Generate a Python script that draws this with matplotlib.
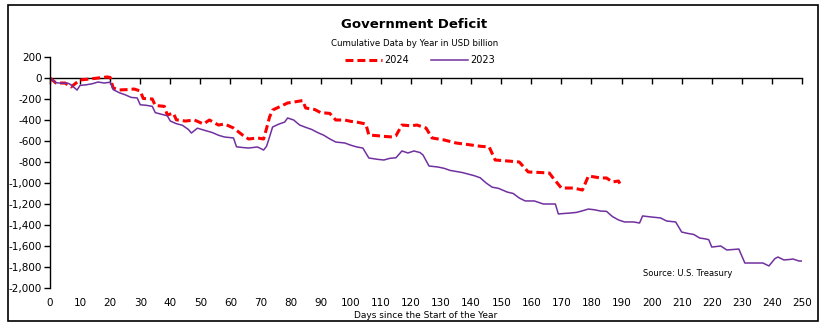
import matplotlib
matplotlib.use('Agg')
import matplotlib.pyplot as plt
from matplotlib.patches import Rectangle
from matplotlib.ticker import FuncFormatter, MultipleLocator

plt.rcParams['font.family'] = ['Liberation Sans Narrow', 'DejaVu Sans']

# 2023 cumulative deficit (USD bn) by day since start of year
days_2023 = [0, 2, 4, 6, 7, 9, 10, 12, 14, 16, 18, 20, 21, 23, 25, 27, 29, 30, 32, 34,
             35, 37, 39, 40, 42, 44, 46, 47, 49, 51, 54, 56, 58, 61, 62, 64, 66, 69, 71, 72,
             73, 74, 76, 78, 79, 81, 83, 85, 87, 89, 91, 93, 95, 98, 100, 102, 104, 106, 109, 111,
             113, 115, 117, 119, 121, 123, 124, 126, 129, 131, 133, 135, 137, 139, 141, 143, 145, 147, 149, 152,
             154, 156, 158, 161, 164, 168, 169, 171, 173, 175, 177, 179, 181, 183, 185, 187, 189, 191, 194, 196,
             197, 200, 203, 205, 208, 210, 212, 214, 216, 218, 219, 220, 223, 225, 229, 231, 234, 237, 239, 241,
             242, 244, 246, 247, 249, 250]
deficit_2023 = [0, -45, -50, -50, -65, -115, -70, -65, -55, -38, -48, -40, -110, -140, -160, -185, -190, -255, -260, -270,
                -330, -345, -360, -410, -435, -450, -490, -524, -478, -495, -520, -545, -562, -571, -655, -662, -667, -657, -686, -650,
                -560, -467, -440, -420, -381, -400, -448, -470, -490, -520, -545, -580, -610, -619, -640, -657, -667, -762, -775, -781,
                -765, -760, -695, -714, -695, -710, -733, -838, -848, -860, -880, -890, -900, -915, -930, -950, -1000, -1040, -1050, -1086,
                -1100, -1143, -1171, -1171, -1200, -1200, -1295, -1290, -1286, -1280, -1265, -1248, -1255, -1267, -1270, -1320, -1352, -1371, -1371, -1381,
                -1314, -1324, -1333, -1362, -1371, -1467, -1480, -1490, -1524, -1533, -1540, -1610, -1600, -1638, -1629, -1762, -1762, -1762, -1790, -1720,
                -1705, -1733, -1728, -1724, -1743, -1743]

# 2024 cumulative deficit (USD bn)
days_2024 = [0, 2, 5, 7, 9, 10, 13, 16, 19, 20, 21, 23, 26, 28, 30, 31, 34, 35, 38, 39,
             41, 42, 45, 48, 51, 53, 56, 58, 61, 64, 66, 69, 71, 72, 73, 74, 77, 79, 81, 84,
             85, 88, 90, 93, 95, 98, 100, 102, 105, 106, 109, 111, 114, 115, 117, 120, 122, 125, 127, 131,
             135, 140, 143, 146, 148, 152, 156, 159, 163, 166, 167, 170, 174, 177, 179, 183, 185, 187, 189, 190]
deficit_2024 = [0, -48, -48, -85, -40, -19, -10, 0, 10, 5, -95, -114, -110, -105, -124, -195, -200, -262, -270, -352,
                -335, -398, -410, -400, -438, -400, -448, -438, -476, -543, -581, -571, -581, -480, -371, -305, -265, -238, -229, -215,
                -286, -300, -330, -337, -400, -400, -413, -420, -438, -543, -550, -556, -562, -550, -448, -455, -448, -476, -571, -590,
                -619, -638, -650, -657, -781, -790, -800, -895, -900, -905, -943, -1048, -1048, -1067, -933, -952, -952, -990, -981, -1038]

fig = plt.figure(figsize=(8.29, 3.28), dpi=100)
ax = fig.add_axes([50 / 829, 1 - 288 / 328, 752 / 829, 231 / 328])

ax.plot(days_2024, deficit_2024, color='#ff0000', lw=2.2, linestyle=(0, (2.6, 1.3)), label='2024')
ax.plot(days_2023, deficit_2023, color='#7030a0', lw=1.1, label='2023')

ax.set_xlim(0, 250)
ax.set_ylim(-2000, 200)
ax.yaxis.set_major_locator(MultipleLocator(200))
ax.yaxis.set_major_formatter(FuncFormatter(lambda v, p: f'{v:,.0f}'))
ax.xaxis.set_major_locator(MultipleLocator(10))

for s in ['top', 'right', 'bottom']:
    ax.spines[s].set_visible(False)
ax.spines['left'].set_linewidth(1.0)
ax.tick_params(axis='y', direction='out', length=4, width=1, labelsize=7.5, pad=2)
ax.tick_params(axis='x', length=0, labelsize=7.5, pad=7)

# x axis line sits at zero
zero_ax = ax.secondary_xaxis(0, transform=ax.transData)
zero_ax.xaxis.set_major_locator(MultipleLocator(10))
zero_ax.tick_params(direction='out', length=4, width=1, labelbottom=False)
zero_ax.spines['bottom'].set_linewidth(1.0)

ax.set_xlabel('Days since the Start of the Year', fontsize=6.5, labelpad=2)

ax.legend(loc='center', bbox_to_anchor=(0.492, 0.985), ncol=2, frameon=False,
          fontsize=7, handlelength=3.8, columnspacing=2.2, handletextpad=0.3)

fig.text(0.5, 1 - 25 / 328, 'Government Deficit', ha='center', va='center',
         fontsize=9.5, fontweight='bold')
fig.text(0.5, 1 - 44 / 328, 'Cumulative Data by Year in USD billion', ha='center', va='center',
         fontsize=6.2)
ax.text(197, -1860, 'Source: U.S. Treasury', fontsize=6, ha='left', va='center')

fig.patches.append(Rectangle((8 / 829, 1 - 321 / 328), 810 / 829, 316 / 328,
                             transform=fig.transFigure, fill=False, edgecolor='black', lw=1.2))

fig.savefig('out.png', dpi=100)
